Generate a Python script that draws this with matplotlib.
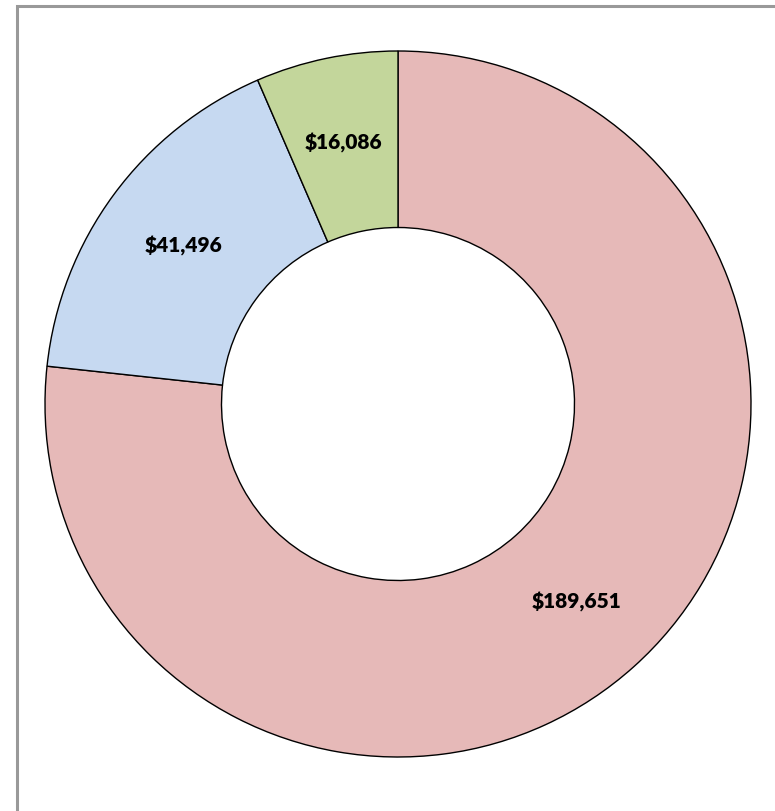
import matplotlib
matplotlib.use("Agg")
import matplotlib.pyplot as plt
from matplotlib.patches import Rectangle
import numpy as np

values = [189651, 41496, 16086]
labels = ["$189,651", "$41,496", "$16,086"]
colors = ["#E6B9B8", "#C6D9F1", "#C3D69B"]

W, H = 775, 811
fig = plt.figure(figsize=(W / 100, H / 100), dpi=100)
fig.patch.set_facecolor("white")

# chart-area border (left/top visible, right/bottom clipped)
fig.patches.append(Rectangle((16.5 / W, -0.05), 2.0, (H - 5.5) / H + 0.05,
                             transform=fig.transFigure, fill=False,
                             edgecolor="#999999", linewidth=2.2))

cx, cy, r = 398, 404, 353
ax = fig.add_axes([(cx - r) / W, (H - cy - r) / H, 2 * r / W, 2 * r / H])
ax.axis("off")

wedges, _ = ax.pie(values, colors=colors, startangle=90, counterclock=False,
                   radius=1.0,
                   wedgeprops=dict(width=0.5, edgecolor="black", linewidth=1.0))
ax.set_xlim(-1, 1)
ax.set_ylim(-1, 1)
ax.set_aspect("equal")

total = sum(values)
ang = 90.0
for v, lab in zip(values, labels):
    span = 360.0 * v / total
    mid = np.deg2rad(ang - span / 2)
    ang -= span
    rr = 0.755
    ax.text(rr * np.cos(mid), rr * np.sin(mid), lab, ha="center", va="center",
            fontsize=15, fontweight="heavy", family=["Lato", "DejaVu Sans"])

fig.savefig("out.png", dpi=100)
